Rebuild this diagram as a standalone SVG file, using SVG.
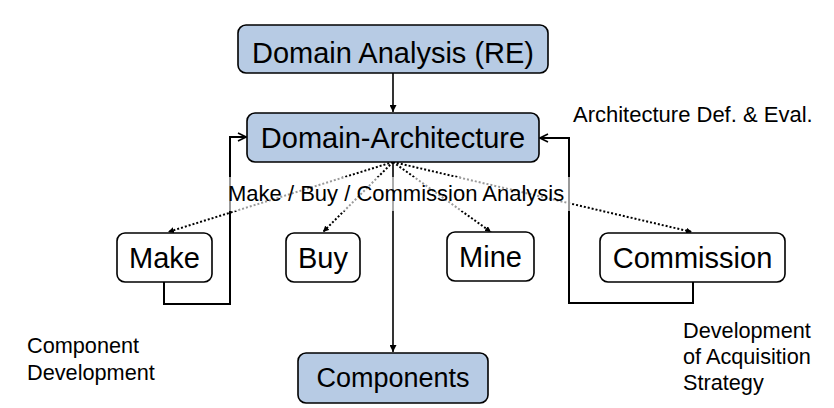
<svg xmlns="http://www.w3.org/2000/svg" width="834" height="408" viewBox="0 0 834 408">
<style>
text{font-family:"Liberation Sans",Arial,sans-serif;fill:#000}
.blue{fill:#b7cbe4;stroke:#000;stroke-width:1.6}
.white{fill:#fff;stroke:#000;stroke-width:1.6}
.lbl{font-size:28px;text-anchor:middle}
.note{font-size:21.7px}
.solid{fill:none;stroke:#000;stroke-width:1.6}
.thick{fill:none;stroke:#000;stroke-width:2}
.dot{fill:none;stroke:#000;stroke-width:2;stroke-dasharray:2 2}
</style>
<defs>
<marker id="tri" viewBox="0 0 10 10" refX="10" refY="5" markerWidth="6" markerHeight="6" markerUnits="userSpaceOnUse" orient="auto"><path d="M0,0 L10,5 L0,10 z" fill="#000"/></marker>
<marker id="tri2" viewBox="0 0 10 10" refX="10" refY="5" markerWidth="7" markerHeight="7" markerUnits="userSpaceOnUse" orient="auto"><path d="M0,0 L10,5 L0,10 z" fill="#000"/></marker>
<marker id="open" viewBox="0 0 10 10" refX="9" refY="5" markerWidth="10" markerHeight="12" markerUnits="userSpaceOnUse" orient="auto"><path d="M1,1 L9,5 L1,9" fill="none" stroke="#000" stroke-width="1.6"/></marker>
</defs>
<g id="connectors">
<line class="solid" x1="393" y1="73" x2="393" y2="112" marker-end="url(#tri2)"/>
<line class="solid" x1="393" y1="162" x2="393" y2="352" marker-end="url(#tri2)"/>
<line class="dot" x1="393" y1="162" x2="168" y2="232" marker-end="url(#tri)"/>
<line class="dot" x1="393" y1="162" x2="323" y2="232" marker-end="url(#tri)"/>
<line class="dot" x1="393" y1="162" x2="491" y2="232" marker-end="url(#tri)"/>
<line class="dot" x1="393" y1="162" x2="692" y2="232" marker-end="url(#tri)"/>
<polyline class="thick" points="164,282 164,304 230,304 230,137 246,137" marker-end="url(#open)"/>
<polyline class="thick" points="693,282 693,303 569,303 569,138 540,138" marker-end="url(#open)"/>
</g>
<g id="analysis-label">
<rect x="226" y="177" width="346" height="34" fill="#fff" opacity="0.6"/>
<text x="228" y="201" style="font-size:22px">Make / Buy / Commission Analysis</text>
</g>
<g id="domain-analysis">
<rect class="blue" x="238" y="25" width="310" height="48" rx="8"/>
<text class="lbl" x="393" y="63" style="font-size:29px">Domain Analysis (RE)</text>
</g>
<g id="domain-architecture">
<rect class="blue" x="247" y="113" width="292" height="49" rx="8"/>
<text class="lbl" x="393" y="148" style="font-size:29px">Domain-Architecture</text>
</g>
<g id="make">
<rect class="white" x="117" y="233" width="95" height="49" rx="8"/>
<text class="lbl" x="164.5" y="268" style="font-size:29px">Make</text>
</g>
<g id="buy">
<rect class="white" x="286" y="233" width="74" height="49" rx="8"/>
<text class="lbl" x="323" y="268" style="font-size:29px">Buy</text>
</g>
<g id="mine">
<rect class="white" x="447" y="232" width="87" height="49" rx="8"/>
<text class="lbl" x="490.5" y="267" style="font-size:29px">Mine</text>
</g>
<g id="commission">
<rect class="white" x="600" y="233" width="185" height="49" rx="8"/>
<text class="lbl" x="692.5" y="268" style="font-size:29px">Commission</text>
</g>
<g id="components">
<rect class="blue" x="298" y="353" width="190" height="50" rx="8"/>
<text class="lbl" x="393" y="387" style="font-size:27px">Components</text>
</g>
<g id="notes">
<text x="573" y="122" style="font-size:22px">Architecture Def. &amp; Eval.</text>
<text class="note" x="27" y="353">Component</text>
<text class="note" x="27" y="380">Development</text>
<text class="note" x="683" y="338">Development</text>
<text class="note" x="683" y="364">of Acquisition</text>
<text class="note" x="683" y="390">Strategy</text>
</g>
</svg>
